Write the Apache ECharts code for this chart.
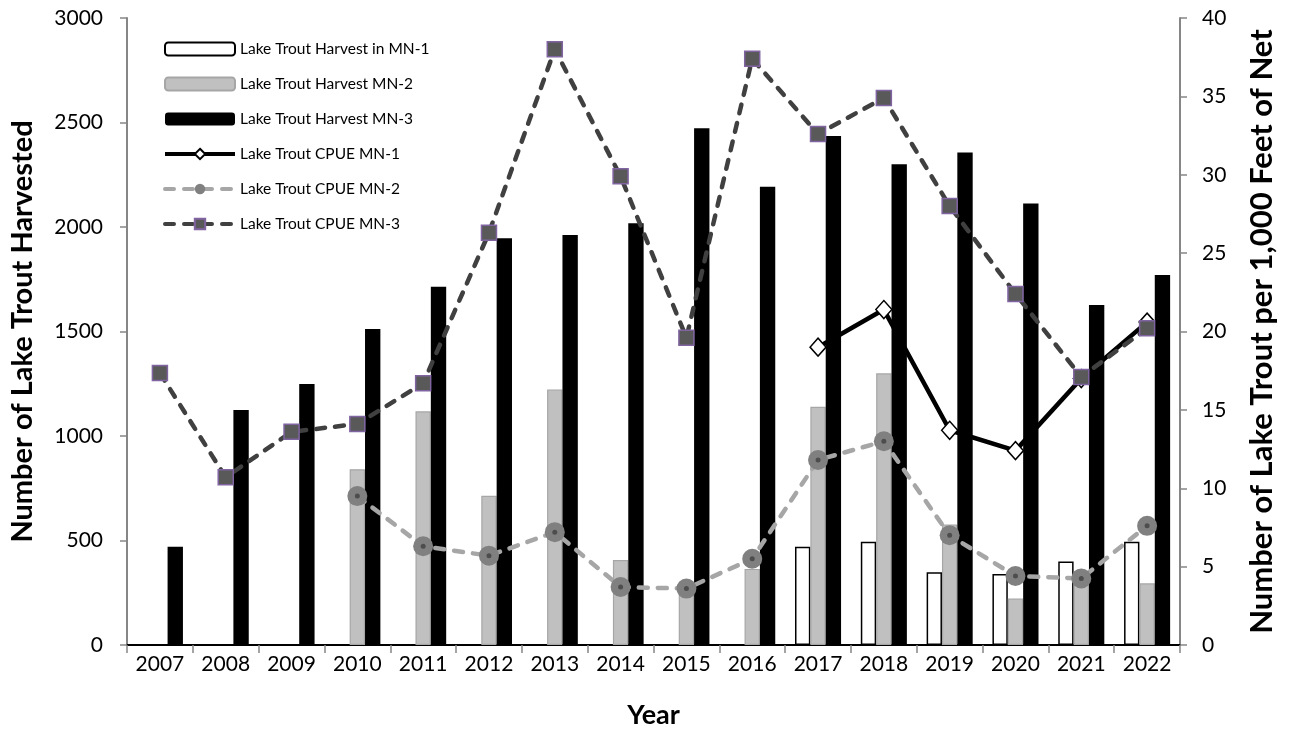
<!DOCTYPE html>
<html>
<head>
<meta charset="utf-8">
<script src="https://cdn.jsdelivr.net/npm/echarts@6/dist/echarts.min.js"></script>
<style>
  html, body { margin: 0; padding: 0; background: #fff; }
  #chart { width: 1295px; height: 738px; }
</style>
</head>
<body>
<div id="chart"></div>
<script>
// Survey years
const years = ['2007','2008','2009','2010','2011','2012','2013','2014','2015','2016','2017','2018','2019','2020','2021','2022'];

// Lake trout harvested (number of fish) by management unit
const harvestMN1 = [null, null, null, null, null, null, null, null, null, null, 470, 494, 348, 340, 399, 494];
const harvestMN2 = [null, null, null, 841, 1118, 714, 1223, 407, 265, 364, 1140, 1300, 577, 222, 330, 295];
const harvestMN3 = [470, 1124, 1249, 1512, 1714, 1946, 1962, 2018, 2472, 2193, 2435, 2300, 2356, 2113, 1627, 1770];

// Catch per unit effort (lake trout per 1,000 feet of net)
const cpueMN1 = [null, null, null, null, null, null, null, null, null, null, 19.0, 21.4, 13.7, 12.4, 17.0, 20.6];
const cpueMN2 = [null, null, null, 9.5, 6.3, 5.7, 7.2, 3.7, 3.6, 5.5, 11.8, 13.0, 7.0, 4.4, 4.25, 7.6];
const cpueMN3 = [17.35, 10.7, 13.6, 14.1, 16.7, 26.3, 38.0, 29.9, 19.6, 37.4, 32.6, 34.9, 28.0, 22.4, 17.1, 20.2];

// Axis tick settings
const leftTicks = { min: 0, max: 3000, interval: 500 };
const rightTicks = { min: 0, max: 40, interval: 5 };

const FONT = 'Lato';
const axisGray = '#868686';

const chart = echarts.init(document.getElementById('chart'), null, { renderer: 'canvas' });

const names = [
  'Lake Trout Harvest in MN-1',
  'Lake Trout Harvest MN-2',
  'Lake Trout Harvest MN-3',
  'Lake Trout CPUE MN-1',
  'Lake Trout CPUE MN-2',
  'Lake Trout CPUE MN-3'
];

chart.setOption({
  animation: false,
  backgroundColor: '#fff',
  textStyle: { fontFamily: FONT },
  grid: { left: 127, right: 115, top: 18, bottom: 93, containLabel: false },
  legend: {
    data: names,
    orient: 'vertical',
    left: 158,
    top: 36,
    itemWidth: 70,
    itemHeight: 13,
    itemGap: 19,
    lineStyle: { width: 4 },
    textStyle: { fontFamily: FONT, fontSize: 15.5, color: '#000' }
  },
  xAxis: [
    {
      type: 'category',
      data: years,
      position: 'bottom',
      name: 'Year',
      nameLocation: 'middle',
      nameGap: 57,
      nameTextStyle: { fontFamily: FONT, fontSize: 27, fontWeight: 'bold', color: '#000' },
      axisLine: { lineStyle: { color: axisGray, width: 2 } },
      axisTick: { show: true, length: 8, lineStyle: { color: axisGray, width: 1.5 } },
      axisLabel: { fontFamily: FONT, fontSize: 21, color: '#000', margin: 9, interval: 0 },
      splitLine: { show: false }
    },
    {
      type: 'category',
      data: years,
      position: 'top',
      axisLine: { lineStyle: { color: '#000', width: 2 } },
      axisTick: { show: false },
      axisLabel: { show: false },
      splitLine: { show: false }
    }
  ],
  yAxis: [
    {
      type: 'value',
      min: leftTicks.min,
      max: leftTicks.max,
      interval: leftTicks.interval,
      position: 'left',
      name: 'Number of Lake Trout Harvested',
      nameLocation: 'middle',
      nameGap: 90,
      nameTextStyle: { fontFamily: FONT, fontSize: 29, fontWeight: 'bold', color: '#000' },
      axisLine: { show: true, lineStyle: { color: axisGray, width: 2 } },
      axisTick: { show: true, length: 7, lineStyle: { color: axisGray, width: 1.5 } },
      axisLabel: { fontFamily: FONT, fontSize: 21, color: '#000', margin: 24, formatter: v => String(v) },
      splitLine: { show: false }
    },
    {
      type: 'value',
      min: rightTicks.min,
      max: rightTicks.max,
      interval: rightTicks.interval,
      position: 'right',
      name: 'Number of Lake Trout per 1,000 Feet of Net',
      nameLocation: 'middle',
      nameGap: 66,
      nameRotate: 90,
      nameTextStyle: { fontFamily: FONT, fontSize: 31, fontWeight: 'bold', color: '#000' },
      axisLine: { show: true, lineStyle: { color: axisGray, width: 2 } },
      axisTick: { show: true, length: 7, lineStyle: { color: axisGray, width: 1.5 } },
      axisLabel: { fontFamily: FONT, fontSize: 21, color: '#000', margin: 22, formatter: v => String(v) },
      splitLine: { show: false }
    }
  ],
  series: [
    {
      name: names[0],
      type: 'bar',
      yAxisIndex: 0,
      data: harvestMN1,
      barGap: '0%',
      barCategoryGap: '30%',
      itemStyle: { color: '#ffffff', borderColor: '#000', borderWidth: 1.5 }
    },
    {
      name: names[1],
      type: 'bar',
      yAxisIndex: 0,
      data: harvestMN2,
      barGap: '0%',
      barCategoryGap: '30%',
      itemStyle: { color: '#c0c0c0', borderColor: '#a6a6a6', borderWidth: 1.2 }
    },
    {
      name: names[2],
      type: 'bar',
      yAxisIndex: 0,
      data: harvestMN3,
      barGap: '0%',
      barCategoryGap: '30%',
      itemStyle: { color: '#000000' }
    },
    {
      name: names[3],
      type: 'line',
      yAxisIndex: 1,
      data: cpueMN1,
      symbol: 'diamond',
      symbolSize: [16, 18],
      showAllSymbol: true,
      lineStyle: { color: '#000', width: 4.5 },
      itemStyle: { color: '#fff', borderColor: '#000', borderWidth: 1.5 },
      z: 3
    },
    {
      name: names[4],
      type: 'line',
      yAxisIndex: 1,
      data: cpueMN2,
      symbol: 'circle',
      symbolSize: 20,
      lineStyle: { color: '#a6a6a6', width: 4.5, type: [9, 10], cap: 'round' },
      itemStyle: { color: '#808080', borderWidth: 0 },
      z: 4
    },
    {
      // dark centre dot on each MN-2 marker
      name: 'cpueMN2-centre',
      type: 'line',
      yAxisIndex: 1,
      data: cpueMN2,
      symbol: 'circle',
      symbolSize: 5,
      lineStyle: { width: 0, opacity: 0 },
      itemStyle: { color: '#4d4d4d', borderWidth: 0 },
      silent: true,
      z: 5
    },
    {
      name: names[5],
      type: 'line',
      yAxisIndex: 1,
      data: cpueMN3,
      symbol: 'rect',
      symbolSize: 15,
      lineStyle: { color: '#404040', width: 4.5, type: [9, 10], cap: 'round' },
      itemStyle: { color: '#595959', borderColor: '#8064a2', borderWidth: 1.5 },
      z: 6
    }
  ]
});
</script>
</body>
</html>
